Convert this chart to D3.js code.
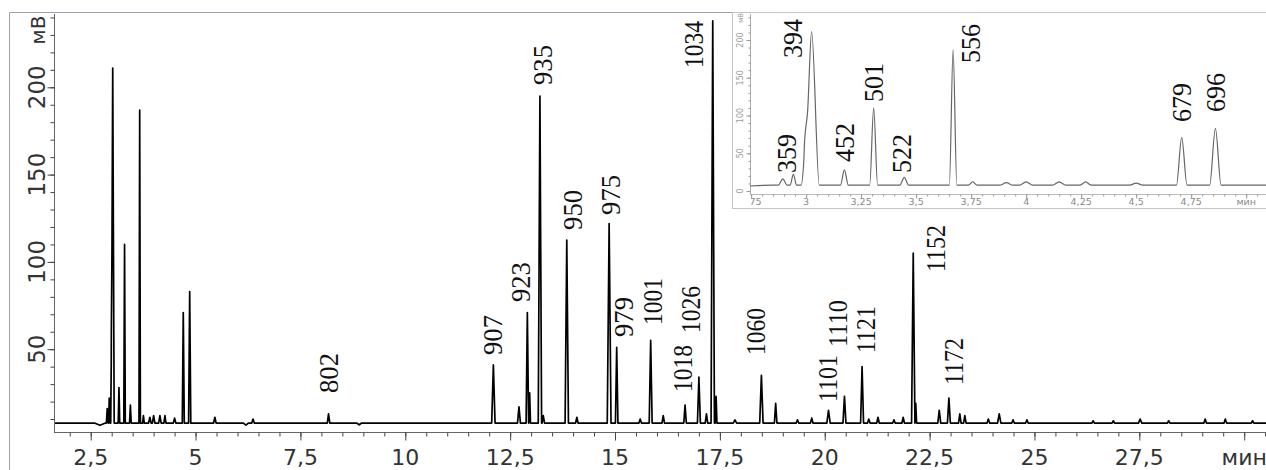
<!DOCTYPE html>
<html>
<head>
<meta charset="utf-8">
<script src="https://cdn.jsdelivr.net/npm/d3@7"></script>
<style>
body { margin: 0; background: #fff; }
svg { display: block; }
</style>
</head>
<body>
<svg id="chart"></svg>
<script>
// chromatogram peaks: retention time (min), apex (mV), half width (min)
var peakTime = [2.72, 2.894, 2.942, 2.992, 3.025, 3.174, 3.307, 3.446, 3.668, 3.757, 3.91, 4.0, 4.15, 4.27, 4.5,
    4.707, 4.86, 5.46, 6.2, 6.37, 8.17, 8.9, 12.1, 12.71, 12.91, 12.965, 13.21, 13.29, 13.85, 14.09, 14.86, 15.04,
    15.6, 15.85, 16.15, 16.67, 17.0, 17.18, 17.33, 17.41, 17.86, 18.49, 18.83, 19.35, 19.69, 20.09, 20.47, 20.89,
    21.05, 21.27, 21.65, 21.87, 22.11, 22.17, 22.73, 22.96, 23.22, 23.34, 23.9, 24.16, 24.49, 24.82, 26.4, 26.88,
    27.52, 28.2, 29.07, 29.55, 30.2];
var peakApex = [6.4, 16, 22, 48, 211, 28, 110, 18, 187, 12, 11, 12, 12, 12, 10.5,
    71, 83, 11, 6.5, 10, 13, 6.7, 41, 17, 71, 25, 195, 12, 112.5, 11, 122, 51,
    10, 55, 12, 18, 34, 13, 238, 23, 9.5, 35, 19, 9.5, 10.5, 15, 23, 40,
    10, 11, 9.5, 11, 105, 19, 15, 22, 13, 12, 10, 13, 9.5, 9.5, 9, 9,
    10, 9, 10, 10, 9];
var peakHalfWidth = [0.13, 0.02, 0.015, 0.015, 0.035, 0.018, 0.018, 0.02, 0.017, 0.02, 0.03, 0.03, 0.03, 0.025, 0.03,
    0.024, 0.026, 0.03, 0.06, 0.03, 0.03, 0.06, 0.04, 0.035, 0.03, 0.02, 0.04, 0.03, 0.04, 0.03, 0.045, 0.03,
    0.03, 0.035, 0.03, 0.03, 0.035, 0.03, 0.04, 0.02, 0.04, 0.04, 0.03, 0.03, 0.03, 0.04, 0.035, 0.035,
    0.03, 0.03, 0.03, 0.03, 0.04, 0.02, 0.035, 0.035, 0.03, 0.03, 0.03, 0.04, 0.03, 0.03, 0.03, 0.03,
    0.04, 0.03, 0.03, 0.03, 0.03];
var baseline = 7.7;

// retention index labels on the main chart (text, time, mV)
var labelText = ["802", "907", "923", "935", "950", "975", "979", "1001", "1018", "1026", "1034", "1060",
    "1101", "1110", "1121", "1152", "1172"];
var labelTime = [8.158, 12.068, 12.736, 13.261, 13.976, 14.882, 15.192, 15.883, 16.599, 16.80, 16.861, 18.339,
    20.056, 20.294, 20.962, 22.631, 23.06];
var labelValue = [24.9, 46.7, 77.0, 201.3, 118.3, 126.9, 57.0, 63.9, 25.5, 59.3, 211.1, 46.7,
    19.8, 51.3, 47.8, 94.2, 29.5];

// labels on the inset
var insetLabelText = ["359", "394", "452", "501", "522", "556", "679", "696"];
var insetLabelTime = [2.91, 2.938, 3.174, 3.306, 3.433, 3.747, 4.706, 4.86];
var insetLabelValue = [23.8, 176.2, 38.4, 117.9, 23.8, 169.5, 91.4, 104.6];

var xMajor = [2.5, 5, 7.5, 10, 12.5, 15, 17.5, 20, 22.5, 25, 27.5, 30];
var xMajorLabels = ["2,5", "5", "7,5", "10", "12,5", "15", "17,5", "20", "22,5", "25", "27,5", "мин"];
var yMajor = [50, 100, 150, 200];
var insetXMajor = [2.75, 3, 3.25, 3.5, 3.75, 4, 4.25, 4.5, 4.75, 5];
var insetXLabels = ["2,75", "3", "3,25", "3,5", "3,75", "4", "4,25", "4,5", "4,75", "мин"];
var insetYMajor = [0, 50, 100, 150, 200];

var width = 1266, height = 470;
var serif = "'Liberation Serif', 'Times New Roman', 'DejaVu Serif', serif";
var peaks = peakTime.map(function (t, i) {
    return {t: t, a: peakApex[i], w: peakHalfWidth[i]};
});

function trace(t0, t1) {
    var pts = [t0, t1];
    peaks.forEach(function (p) {
        pts.push(p.t - p.w, p.t, p.t + p.w);
    });
    pts = pts.filter(function (t) { return t >= t0 && t <= t1; }).sort(d3.ascending);
    return pts.map(function (t) {
        var v = baseline + d3.sum(peaks, function (p) {
            return Math.max(0, 1 - Math.abs(t - p.t) / p.w) * (p.a - baseline);
        });
        return [t, v];
    });
}

var svg = d3.select("#chart")
    .attr("width", width)
    .attr("height", height);

// ---------- main chart ----------
var x = d3.scaleLinear().domain([1.625, 30.52]).range([54, 1266]);
var y = d3.scaleLinear().domain([0, 250]).range([436.5, 0]);

// frame
svg.append("path")
    .attr("d", "M9.5,470V12.5H1266")
    .attr("fill", "none")
    .attr("stroke", "#9aa3ad");

// axes lines
svg.append("line").attr("x1", 54.5).attr("x2", 54.5).attr("y1", 14).attr("y2", 432)
    .attr("stroke", "#666");
svg.append("line").attr("x1", 54).attr("x2", 1266).attr("y1", 432.5).attr("y2", 432.5)
    .attr("stroke", "#666");

var yMinorAxis = d3.axisLeft(y).tickValues(d3.range(10, 250, 10)).tickSize(4).tickFormat("");
var yMajorAxis = d3.axisLeft(y).tickValues(yMajor).tickSize(7).tickFormat("");
[yMinorAxis, yMajorAxis].forEach(function (ax) {
    var g = svg.append("g").attr("transform", "translate(54.5,0)").call(ax);
    g.select(".domain").remove();
    g.selectAll("line").attr("stroke", "#444");
});

var xMinorAxis = d3.axisBottom(x).tickValues(d3.range(2, 30.6, 0.5)).tickSize(4).tickFormat("");
var xMajorAxis = d3.axisBottom(x).tickValues(xMajor).tickSize(8).tickFormat("");
[xMinorAxis, xMajorAxis].forEach(function (ax) {
    var g = svg.append("g").attr("transform", "translate(0,432.5)").call(ax);
    g.select(".domain").remove();
    g.selectAll("line").attr("stroke", "#444");
});

svg.append("g").selectAll("text")
    .data(xMajor)
    .enter().append("text")
    .attr("x", function (d) { return x(d); })
    .attr("y", 465)
    .attr("text-anchor", "middle")
    .style("font-family", "'DejaVu Sans', sans-serif")
    .style("font-size", "22px")
    .attr("fill", "#333")
    .text(function (d, i) { return xMajorLabels[i]; });

svg.append("g").selectAll("text")
    .data(yMajor)
    .enter().append("text")
    .attr("transform", function (d) { return "translate(45," + y(d) + ") rotate(-90)"; })
    .attr("text-anchor", "middle")
    .style("font-family", "'DejaVu Sans', sans-serif")
    .style("font-size", "23px")
    .attr("fill", "#333")
    .text(function (d) { return d; });

svg.append("text")
    .attr("transform", "translate(45,30) rotate(-90)")
    .attr("text-anchor", "middle")
    .style("font-family", "'DejaVu Sans', sans-serif")
    .style("font-size", "20px")
    .attr("fill", "#333")
    .text("мВ");

var line = d3.line()
    .x(function (d) { return x(d[0]); })
    .y(function (d) { return y(d[1]); });

svg.append("path")
    .datum(trace(1.65, 30.52))
    .attr("d", line)
    .attr("fill", "none")
    .attr("stroke", "#000")
    .attr("stroke-width", 1.7)
    .attr("stroke-linejoin", "round");

svg.append("g").selectAll("text")
    .data(labelText)
    .enter().append("text")
    .attr("transform", function (d, i) {
        return "translate(" + x(labelTime[i]) + "," + y(labelValue[i]) + ") rotate(-90)";
    })
    .attr("dy", "0.35em")
    .style("font-family", serif)
    .style("font-size", "28px")
    .attr("textLength", function (d) { return d.length > 3 ? 47 : 40; })
    .attr("lengthAdjust", "spacingAndGlyphs")
    .attr("fill", "#111")
    .text(function (d) { return d; });

// ---------- inset ----------
var inset = svg.append("g");
inset.append("rect")
    .attr("x", 732.5).attr("y", 12.5)
    .attr("width", 540).attr("height", 196)
    .attr("fill", "#fff")
    .attr("stroke", "#c4c4c4");

var ix = d3.scaleLinear().domain([2.745, 5.09]).range([750, 1266]);
var iy = d3.scaleLinear().domain([0, 230]).range([191, 191 - 230 * 0.755]);

svg.append("clipPath").attr("id", "insetClip")
    .append("rect").attr("x", 751).attr("y", 12).attr("width", 520).attr("height", 200);

inset.append("line").attr("x1", 750.5).attr("x2", 750.5).attr("y1", 14).attr("y2", 194)
    .attr("stroke", "#aaa");
inset.append("line").attr("x1", 750).attr("x2", 1266).attr("y1", 194.5).attr("y2", 194.5)
    .attr("stroke", "#bbb");

var iyMinor = d3.axisLeft(iy).tickValues(d3.range(0, 231, 10)).tickSize(2).tickFormat("");
var iyMajor = d3.axisLeft(iy).tickValues(insetYMajor).tickSize(4).tickFormat("");
[iyMinor, iyMajor].forEach(function (ax) {
    var g = inset.append("g").attr("transform", "translate(750.5,0)").call(ax);
    g.select(".domain").remove();
    g.selectAll("line").attr("stroke", "#999");
});
var ixMinor = d3.axisBottom(ix).tickValues(d3.range(2.75, 5.09, 0.05)).tickSize(2).tickFormat("");
var ixMajor = d3.axisBottom(ix).tickValues(insetXMajor).tickSize(4).tickFormat("");
[ixMinor, ixMajor].forEach(function (ax) {
    var g = inset.append("g").attr("transform", "translate(0,194.5)").call(ax);
    g.select(".domain").remove();
    g.selectAll("line").attr("stroke", "#999");
});

inset.append("g")
    .attr("clip-path", "url(#insetClip)")
    .selectAll("text")
    .data(insetXMajor)
    .enter().append("text")
    .attr("x", function (d) { return ix(d); })
    .attr("y", 205)
    .attr("text-anchor", "middle")
    .style("font-family", "'DejaVu Sans', sans-serif")
    .style("font-size", "9.5px")
    .attr("fill", "#888")
    .text(function (d, i) { return insetXLabels[i]; });

inset.append("g").selectAll("text")
    .data(insetYMajor)
    .enter().append("text")
    .attr("transform", function (d) { return "translate(743," + iy(d) + ") rotate(-90)"; })
    .attr("text-anchor", "middle")
    .style("font-family", "'DejaVu Sans', sans-serif")
    .style("font-size", "8px")
    .attr("fill", "#999")
    .text(function (d) { return d; });

inset.append("text")
    .attr("transform", "translate(743,18) rotate(-90)")
    .attr("text-anchor", "middle")
    .style("font-family", "'DejaVu Sans', sans-serif")
    .style("font-size", "7px")
    .attr("fill", "#999")
    .text("мВ");

var insetLine = d3.line()
    .curve(d3.curveMonotoneX)
    .x(function (d) { return ix(d[0]); })
    .y(function (d) { return iy(d[1]); });

inset.append("path")
    .datum(trace(2.745, 5.09))
    .attr("d", insetLine)
    .attr("fill", "none")
    .attr("stroke", "#666")
    .attr("stroke-width", 1.2);

inset.append("g").selectAll("text")
    .data(insetLabelText)
    .enter().append("text")
    .attr("transform", function (d, i) {
        return "translate(" + ix(insetLabelTime[i]) + "," + iy(insetLabelValue[i]) + ") rotate(-90)";
    })
    .attr("dy", "0.35em")
    .style("font-family", serif)
    .style("font-size", "28px")
    .attr("textLength", 39)
    .attr("lengthAdjust", "spacingAndGlyphs")
    .attr("fill", "#111")
    .text(function (d) { return d; });
</script>
</body>
</html>
